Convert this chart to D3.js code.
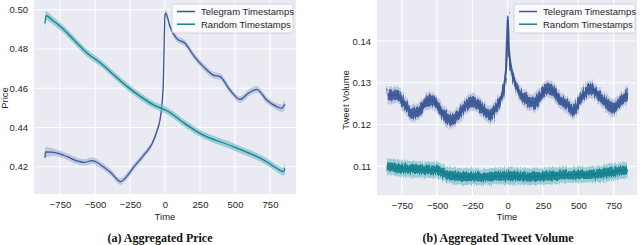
<!DOCTYPE html>
<html>
<head>
<meta charset="utf-8">
<script src="https://cdn.jsdelivr.net/npm/d3@7"></script>
<style>
  body { margin: 0; background: #fff; }
  svg { display: block; }
  text { font-family: "Liberation Sans", Arial, sans-serif; fill: #262626; }
  .caption { font-family: "Liberation Serif", "DejaVu Serif", serif; font-weight: bold; font-size: 12px; fill: #111; }
</style>
</head>
<body>
<svg id="mainSvg" width="640" height="245"></svg>
<script>
// x ticks shared by both panels
const timeTicks = [-750, -500, -250, 0, 250, 500, 750];

// (a) price, telegram timestamps
const priceTgTime = [-857, -855, -793, -698, -626, -579, -519, -459, -388, -316, -281, -221, -150, -91, -55, -36, -19, -12, -5, 0, 5, 36, 83, 143, 202, 274, 345, 393, 464, 536, 595, 655, 726, 798, 833, 857];
const priceTg = [0.4245, 0.4276, 0.4273, 0.4251, 0.4229, 0.4222, 0.4231, 0.4209, 0.4171, 0.4124, 0.4144, 0.4200, 0.4260, 0.4319, 0.4387, 0.4438, 0.4540, 0.4627, 0.4850, 0.4975, 0.4982, 0.4913, 0.4854, 0.4829, 0.4769, 0.4710, 0.4667, 0.4659, 0.4591, 0.4543, 0.4574, 0.4594, 0.4540, 0.4506, 0.4498, 0.4518];
const priceTgCI = [0.0032, 0.0026, 0.0019, 0.0017, 0.0017, 0.0017, 0.0017, 0.0017, 0.0017, 0.0017, 0.0017, 0.0017, 0.0016, 0.0015, 0.0015, 0.0015, 0.0015, 0.0015, 0.0015, 0.0015, 0.0018, 0.0017, 0.0017, 0.0017, 0.0017, 0.0017, 0.0017, 0.0017, 0.0017, 0.0017, 0.0017, 0.0017, 0.0017, 0.0017, 0.0019, 0.0028];

// (a) price, random timestamps
const priceRdTime = [-857, -850, -800, -745, -650, -555, -459, -364, -269, -174, -79, 17, 155, 250, 488, 726, 798, 845, 857];
const priceRd = [0.4930, 0.4970, 0.4944, 0.4913, 0.4846, 0.4778, 0.4727, 0.4667, 0.4608, 0.4557, 0.4514, 0.4484, 0.4413, 0.4370, 0.4302, 0.4225, 0.4192, 0.4175, 0.4192];
const priceRdCI = [0.0032, 0.0022, 0.0019, 0.0019, 0.0019, 0.0019, 0.0018, 0.0018, 0.0018, 0.0018, 0.0018, 0.0018, 0.0018, 0.0018, 0.0018, 0.0018, 0.0018, 0.0020, 0.0032];
const priceTicks = [0.42, 0.44, 0.46, 0.48, 0.50];

// (b) tweet volume, telegram timestamps
const volTgTime = [-850, -786, -727, -680, -633, -574, -538, -491, -444, -397, -350, -302, -255, -208, -161, -125, -78, -42, -19, -7, 0, 9, 28, 52, 87, 135, 182, 229, 276, 323, 370, 418, 465, 512, 559, 595, 642, 701, 748, 795, 843, 850];
const volTg = [0.1271, 0.1271, 0.1247, 0.1227, 0.1231, 0.1255, 0.1259, 0.1243, 0.1219, 0.1211, 0.1223, 0.1243, 0.1255, 0.1247, 0.1231, 0.1223, 0.1243, 0.1267, 0.1307, 0.1363, 0.1459, 0.1379, 0.1331, 0.1299, 0.1275, 0.1259, 0.1251, 0.1267, 0.1285, 0.1280, 0.1259, 0.1247, 0.1235, 0.1259, 0.1280, 0.1285, 0.1271, 0.1251, 0.1239, 0.1255, 0.1271, 0.1275];
const volTgNoise = 0.0013;
const volTgCI = 0.0021;

// (b) tweet volume, random timestamps
const volRdTime = [-850, -697, -508, -390, -225, 11, 177, 366, 602, 720, 838, 850];
const volRd = [0.1099, 0.1093, 0.1091, 0.1077, 0.1075, 0.1077, 0.1075, 0.1079, 0.1081, 0.1085, 0.1091, 0.1091];
const volRdNoise = 0.0011;
const volRdCI = 0.0020;
const volTicks = [0.11, 0.12, 0.13, 0.14];

const legendNames = ['Telegram Timestamps', 'Random Timestamps'];
const [blue, teal] = ['#3a5896', '#12808f'];
const [blueLight, tealLight] = ['#a3b3d6', '#6cbcc6'];

const svg = d3.select('#mainSvg');

// fuzzy edge filter for the noisy series
const defs = svg.append('defs');
const filt = defs.append('filter').attr('id', 'fuzz').attr('x', '-5%').attr('y', '-20%').attr('width', '110%').attr('height', '140%');
filt.append('feTurbulence').attr('type', 'fractalNoise').attr('baseFrequency', '0.9 0.05').attr('numOctaves', 2).attr('seed', 3).attr('result', 'n');
filt.append('feDisplacementMap').attr('in', 'SourceGraphic').attr('in2', 'n').attr('scale', 6).attr('xChannelSelector', 'B').attr('yChannelSelector', 'R');

const panel = (cfg) => {
  const g = svg.append('g');
  const x = d3.scaleLinear().domain(cfg.xDomain).range([cfg.left, cfg.right]);
  const y = d3.scaleLinear().domain(cfg.yDomain).range([cfg.bottom, cfg.top]);

  const clipId = 'clip' + cfg.id;
  defs.append('clipPath').attr('id', clipId).append('rect')
    .attr('x', cfg.left).attr('y', cfg.top).attr('width', cfg.right - cfg.left).attr('height', cfg.bottom - cfg.top);

  g.append('rect').attr('x', cfg.left).attr('y', cfg.top).attr('width', cfg.right - cfg.left).attr('height', cfg.bottom - cfg.top).attr('fill', '#eaeaf2');

  // grid
  g.selectAll('.vg').data(timeTicks).enter().append('line')
    .attr('x1', d => x(d)).attr('x2', d => x(d)).attr('y1', cfg.top).attr('y2', cfg.bottom)
    .attr('stroke', '#fff').attr('stroke-width', 1.1);
  g.selectAll('.hg').data(cfg.yTicks).enter().append('line')
    .attr('x1', cfg.left).attr('x2', cfg.right).attr('y1', d => y(d)).attr('y2', d => y(d))
    .attr('stroke', '#fff').attr('stroke-width', 1.1);

  // axes (labels only, seaborn style)
  const xAxis = d3.axisBottom(x).tickValues(timeTicks).tickSize(0).tickPadding(7).tickFormat(d => d < 0 ? '\u2212' + Math.abs(d) : d);
  const xg = g.append('g').attr('transform', `translate(0,${cfg.bottom})`).call(xAxis);
  xg.select('.domain').remove();
  xg.selectAll('text').attr('font-size', 9.5).attr('font-family', null).attr('fill', '#262626');

  const yAxis = d3.axisLeft(y).tickValues(cfg.yTicks).tickSize(0).tickPadding(6).tickFormat(cfg.yFormat);
  const yg = g.append('g').attr('transform', `translate(${cfg.left},0)`).call(yAxis);
  yg.select('.domain').remove();
  yg.selectAll('text').attr('font-size', 9.5).attr('font-family', null).attr('fill', '#262626');

  g.append('text').attr('x', (cfg.left + cfg.right) / 2).attr('y', 219.5).attr('text-anchor', 'middle').attr('font-size', 9.5).text('Time');
  g.append('text').attr('transform', `translate(${cfg.ylabelX},${cfg.ylabelY}) rotate(-90)`).attr('text-anchor', 'middle').attr('font-size', 9.5).text(cfg.ylabel);

  const plot = g.append('g').attr('clip-path', `url(#${clipId})`);

  cfg.series.forEach(s => {
    const pts = s.t.map((t, i) => ({t, v: s.v[i], ci: Array.isArray(s.ci) ? s.ci[i] : s.ci}));
    const band = d3.area().x(d => x(d.t)).y0(d => y(d.v - d.ci)).y1(d => y(d.v + d.ci)).curve(d3.curveMonotoneX);
    const ciPath = plot.append('path').datum(pts).attr('d', band).attr('fill', s.light).attr('opacity', 0.62);
    if (s.noise) {
      ciPath.attr('filter', 'url(#fuzz)');
      const nb = d3.area().x(d => x(d.t)).y0(d => y(d.v - s.noise)).y1(d => y(d.v + s.noise)).curve(d3.curveMonotoneX);
      plot.append('path').datum(pts).attr('d', nb).attr('fill', s.color).attr('opacity', 0.92).attr('filter', 'url(#fuzz)');
    }
    const line = d3.line().x(d => x(d.t)).y(d => y(d.v)).curve(d3.curveMonotoneX);
    plot.append('path').datum(pts).attr('d', line).attr('fill', 'none').attr('stroke', s.color).attr('stroke-width', s.noise ? 2 : 1.3);
  });

  // legend
  const lg = g.append('g').attr('transform', `translate(${cfg.legendX},4)`);
  lg.append('rect').attr('width', cfg.legendW).attr('height', 29).attr('rx', 2.5)
    .attr('fill', '#fff').attr('fill-opacity', 0.8).attr('stroke', '#cccccc').attr('stroke-width', 0.8);
  legendNames.forEach((name, i) => {
    const yy = 7.5 + i * 12.7;
    lg.append('line').attr('x1', 5).attr('x2', 23).attr('y1', yy).attr('y2', yy).attr('stroke', cfg.series[i].color).attr('stroke-width', 1.5);
    lg.append('text').attr('x', 29).attr('y', yy + 3.3).attr('font-size', 9.5).text(name);
  });

  svg.append('text').attr('class', 'caption').attr('x', cfg.captionX).attr('y', 242.3).attr('text-anchor', 'middle').text(cfg.caption);
};

panel({
  id: 'a', left: 34, right: 296, top: 0, bottom: 194,
  xDomain: [-935.7, 935.7], yDomain: [0.40609, 0.50494], yTicks: priceTicks,
  yFormat: d3.format('.2f'), ylabel: 'Price', ylabelX: 7.5, ylabelY: 98,
  legendX: 172, legendW: 121, captionX: 160, caption: '(a) Aggregated Price',
  series: [
    {t: priceTgTime, v: priceTg, ci: priceTgCI, color: blue, light: blueLight},
    {t: priceRdTime, v: priceRd, ci: priceRdCI, color: teal, light: tealLight}
  ]
});

panel({
  id: 'b', left: 377, right: 637, top: 0, bottom: 195,
  xDomain: [-925.6, 915.7], yDomain: [0.10313, 0.14982], yTicks: volTicks,
  yFormat: d3.format('.2f'), ylabel: 'Tweet Volume', ylabelX: 348.5, ylabelY: 100,
  legendX: 514, legendW: 121, captionX: 498, caption: '(b) Aggregated Tweet Volume',
  series: [
    {t: volTgTime, v: volTg, ci: volTgCI, noise: volTgNoise, color: blue, light: blueLight},
    {t: volRdTime, v: volRd, ci: volRdCI, noise: volRdNoise, color: teal, light: tealLight}
  ]
});
</script>
</body>
</html>
